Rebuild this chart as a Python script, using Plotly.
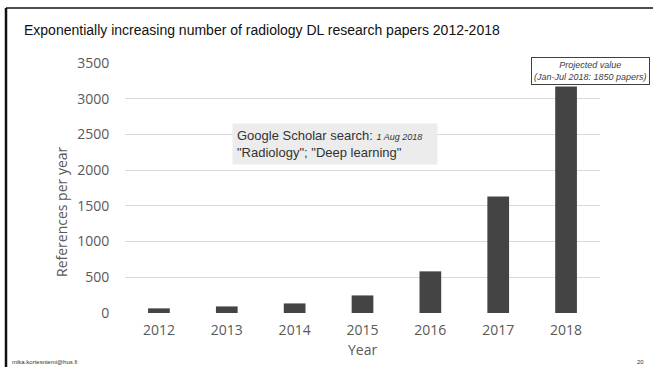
import plotly.graph_objects as go

years = ["2012", "2013", "2014", "2015", "2016", "2017", "2018"]
papers = [65, 92, 134, 246, 583, 1630, 3170]
y_ticks = [0, 500, 1000, 1500, 2000, 2500, 3000, 3500]

W, H = 653, 367
L, R, T, B = 125, 53, 63, 54
PW, PH = W - L - R, H - T - B

def px(x):
    return (x - L) / PW

def py(y):
    return (H - B - y) / PH

fig = go.Figure(go.Bar(x=years, y=papers, marker_color="#444444", width=0.32,
                       marker_line_width=0))

fig.update_layout(
    width=W, height=H,
    margin=dict(l=L, r=R, t=T, b=B),
    paper_bgcolor="white", plot_bgcolor="white",
    showlegend=False,
    title=dict(text="Exponentially increasing number of radiology DL research papers 2012-2018",
               x=24 / W, xanchor="left", y=1 - 30 / H, yanchor="middle",
               font=dict(family="Liberation Sans", size=14, color="#111111")),
    xaxis=dict(type="category", range=[-0.5, 6.5], showgrid=False, showline=False,
               ticks="outside", ticklen=4, tickcolor="rgba(0,0,0,0)",
               tickfont=dict(family="Open Sans", size=14, color="#595959")),
    yaxis=dict(range=[0, 3500], tickvals=y_ticks, showgrid=True, gridcolor="#d9d9d9",
               gridwidth=1, zeroline=False, showline=False,
               ticks="outside", ticklen=12, tickcolor="rgba(0,0,0,0)",
               tickfont=dict(family="Open Sans", size=14, color="#595959")),
)

annotations = [
    dict(text="References per year", x=px(61), y=py(212), xref="paper", yref="paper",
         textangle=-90, showarrow=False, xanchor="center", yanchor="middle",
         font=dict(family="Open Sans", size=14, color="#595959")),
    dict(text="Year", x=0.5, y=py(349), xref="paper", yref="paper", showarrow=False,
         xanchor="center", yanchor="middle",
         font=dict(family="Open Sans", size=14, color="#595959")),
    dict(text="Google Scholar search: <i><span style='font-size:9px'>1 Aug 2018</span></i>   <br>\"Radiology\"; \"Deep learning\"",
         x=px(232), y=py(143.5), xref="paper", yref="paper", showarrow=False,
         xanchor="left", yanchor="middle", align="left", bgcolor="#ececec", borderpad=4,
         font=dict(family="Liberation Sans", size=13, color="#333333")),
    dict(text="<i>Projected value<br>(Jan-Jul 2018: 1850 papers)</i>",
         x=px(590), y=py(71), xref="paper", yref="paper", showarrow=False,
         xanchor="center", yanchor="middle", align="center", bgcolor="white",
         bordercolor="#404040", borderwidth=1, borderpad=2,
         font=dict(family="Liberation Sans", size=9, color="#404040")),
    dict(text="mika.kortesniemi@hus.fi", x=px(10), y=py(362), xref="paper", yref="paper",
         showarrow=False, xanchor="left", yanchor="middle",
         font=dict(family="Liberation Sans", size=6, color="#333333")),
    dict(text="20", x=px(646), y=py(362), xref="paper", yref="paper",
         showarrow=False, xanchor="right", yanchor="middle",
         font=dict(family="Liberation Sans", size=6, color="#333333")),
]
fig.update_layout(annotations=annotations)

fig.add_shape(type="line", xref="paper", yref="paper", x0=px(6), x1=px(W + 2),
              y0=py(8), y1=py(8), line=dict(color="#111111", width=1.5))
fig.add_shape(type="line", xref="paper", yref="paper", x0=px(6), x1=px(6),
              y0=py(8), y1=py(H + 2), line=dict(color="#111111", width=2.5))

fig.write_html("out.html")
